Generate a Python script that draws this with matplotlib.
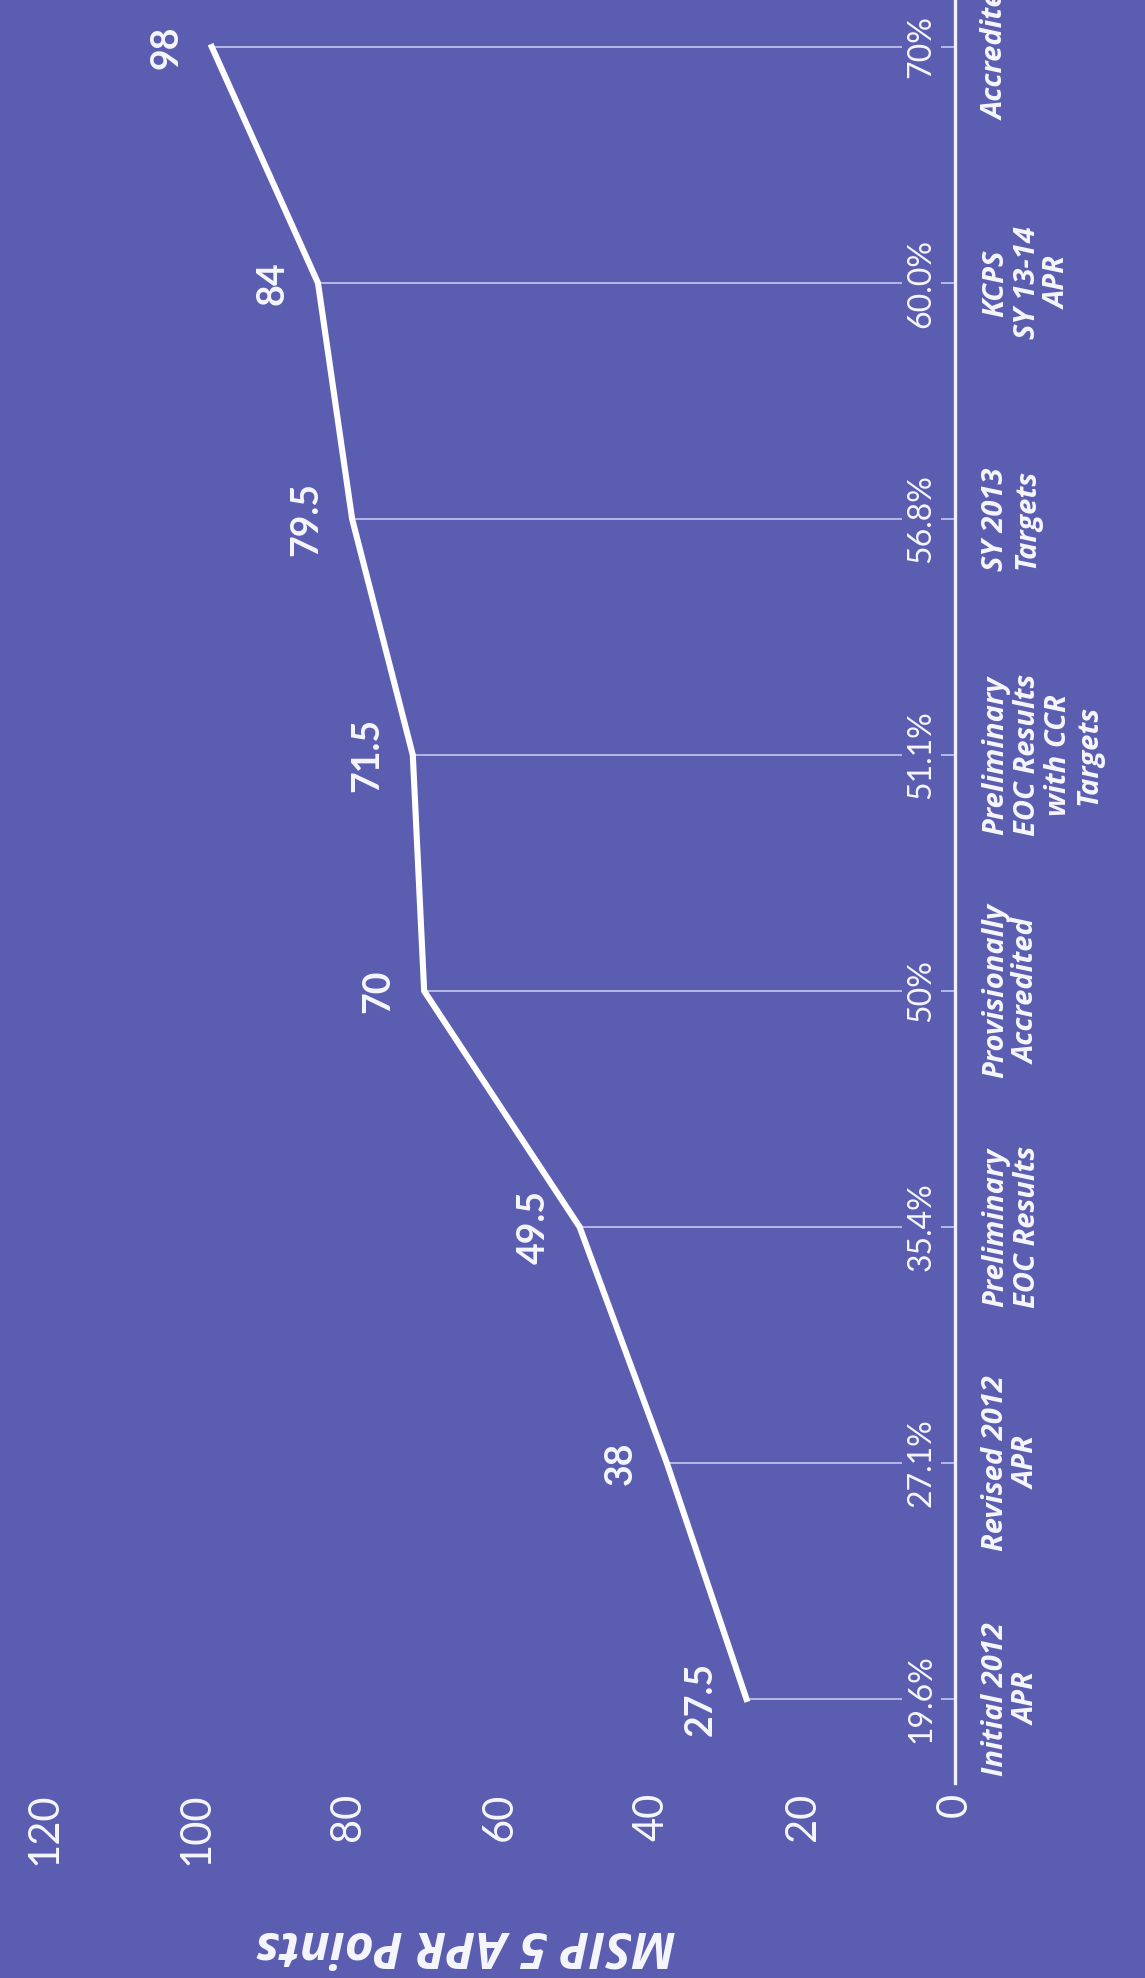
import matplotlib
matplotlib.use("Agg")
import matplotlib.pyplot as plt

# chart data (the original slide is scanned turned on its side)
categories = ["Initial 2012\nAPR", "Revised 2012\nAPR", "Preliminary\nEOC Results",
              "Provisionally\nAccredited", "Preliminary\nEOC Results\nwith CCR\nTargets",
              "SY 2013\nTargets", "KCPS\nSY 13-14\nAPR", "Accredited"]
apr_points = [27.5, 38, 49.5, 70, 71.5, 79.5, 84, 98]
pct_labels = ["19.6%", "27.1%", "35.4%", "50%", "51.1%", "56.8%", "60.0%", "70%"]
value_ticks = [0, 20, 40, 60, 80, 100, 120]

bg = "#5b5db1"
fg = "#f6f6fc"
fam = ["Lato", "DejaVu Sans"]
plt.rcParams["font.family"] = fam
bold_it = ["Open Sans", "Lato", "DejaVu Sans"]

W, H = 1145, 1978
fig = plt.figure(figsize=(W / 100, H / 100), dpi=100, facecolor=bg)

# value axis runs right->left, categories run bottom->top
left_px, right_px, bottom_px = 45, 955, 195
ax = fig.add_axes([left_px / W, bottom_px / H, (right_px - left_px) / W, 1 - bottom_px / H])
ax.set_facecolor(bg)
ax.set_xlim(120, 0)
cat_top = H - 47          # pixel (from bottom) of last category
step = 236
ax.set_ylim(7 - (cat_top - bottom_px) / step, 7 + 47 / step)

pos = list(range(len(categories)))

# drop lines
ax.hlines(pos, 0, apr_points, color="#cdd0f4", lw=1.1, zorder=1)
# main line
ax.plot(apr_points, pos, color="white", lw=4.4, solid_joinstyle="miter", zorder=3)

# data labels
for v, p in zip(apr_points, pos):
    ax.annotate(f"{v:g}", (v, p), xytext=(-33, 0), textcoords="offset points",
                rotation=90, ha="center", va="center", color=fg,
                fontsize=27, fontweight="bold", zorder=5)

# percentage labels near the axis
for lab, p in zip(pct_labels, pos):
    ax.text(4.4, p, lab, rotation=90, ha="center", va="center", color=fg,
            fontsize=23, zorder=4,
            bbox=dict(facecolor=bg, edgecolor="none", pad=3))

for s in ["top", "bottom", "left"]:
    ax.spines[s].set_visible(False)
ax.spines["right"].set_color("#f2f0fc")
ax.spines["right"].set_linewidth(2.4)

ax.set_xticks(value_ticks)
ax.set_xticklabels([str(t) for t in value_ticks], rotation=90, color=fg, fontsize=30)
ax.tick_params(axis="x", length=0, pad=7)

ax.yaxis.tick_right()
ax.set_yticks(pos)
ax.set_yticklabels(categories, rotation=90, color=fg, fontsize=21,
                   fontweight="bold", style="italic", va="center", family=bold_it)
for t in ax.get_yticklabels():
    t.set_multialignment("center")
    t.set_linespacing(1.1)
ax.tick_params(axis="y", length=0, pad=19)

fig.text(466 / W, 34 / H, "MSIP 5 APR Points", rotation=180, ha="center", va="center",
         color=fg, fontsize=36, fontweight="bold", style="italic", family=bold_it)

fig.savefig("out.png", dpi=100, facecolor=bg)
